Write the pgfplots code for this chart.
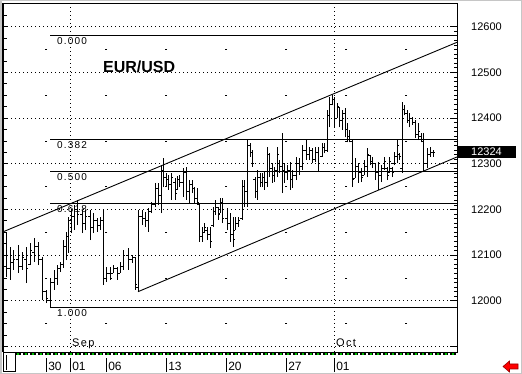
\documentclass[border=0pt]{standalone}
\usepackage{pgfplots}
\pgfplotsset{compat=1.18}
\usepackage{pgfplotstable}
\usepackage{fontspec}
\setmainfont{Liberation Sans}
\newfontfamily\fibfont[LetterSpace=12]{Liberation Sans}

\pgfdeclareplotmark{otick}{\pgfpathmoveto{\pgfqpoint{-\pgfplotmarksize}{0pt}}\pgfpathlineto{\pgfqpoint{0pt}{0pt}}\pgfusepathqstroke}
\pgfdeclareplotmark{ctick}{\pgfpathmoveto{\pgfqpoint{0pt}{0pt}}\pgfpathlineto{\pgfqpoint{\pgfplotmarksize}{0pt}}\pgfusepathqstroke}

\pgfplotstableread{
x h l o c
6 12151 12052 12100 12070
10 12118 12046 12070 12085
13 12111 12068 12085 12090
18 12122 12061 12090 12075
22 12107 12068 12075 12095
26 12118 12039 12090 12070
30 12127 12078 12080 12110
34 12137 12085 12105 12120
38 12129 12078 12120 12090
42 12096 12002 12090 12020
46 12024 11995 12020 12005
50 12050 11984 12000 12040
54 12068 12024 12040 12050
57 12078 12035 12050 12070
60 12085 12063 12070 12080
63 12133 12072 12080 12120
66 12151 12089 12120 12140
68 12183 12105 12140 12175
71 12199 12148 12175 12185
74 12210 12155 12185 12200
77 12221 12166 12200 12190
82 12199 12148 12190 12170
85 12199 12155 12170 12185
90 12199 12133 12185 12160
93 12192 12148 12160 12175
97 12181 12151 12175 12165
100 12183 12155 12165 12175
103 12199 12035 12175 12050
106 12074 12041 12050 12060
110 12074 12046 12060 12050
113 12078 12061 12061 12070
117 12074 12046 12070 12060
120 12085 12061 12061 12075
123 12111 12068 12075 12100
128 12116 12068 12100 12090
132 12100 12083 12090 12095
135 12096 12024 12095 12035
138 12199 12020 12030 12185
142 12199 12166 12185 12180
145 12194 12162 12180 12175
148 12203 12151 12175 12195
151 12216 12192 12195 12210
155 12258 12205 12210 12245
158 12258 12210 12245 12230
161 12297 12192 12230 12285
163 12312 12249 12285 12270
166 12280 12249 12270 12265
168 12275 12243 12265 12255
171 12280 12221 12255 12270
175 12269 12221 12260 12235
177 12273 12243 12243 12265
179 12275 12249 12265 12260
183 12291 12227 12260 12280
186 12293 12221 12280 12240
189 12264 12214 12240 12255
192 12264 12236 12255 12245
194 12249 12214 12245 12225
197 12247 12210 12225 12215
199 12214 12129 12210 12140
202 12162 12129 12140 12150
204 12170 12148 12150 12160
207 12162 12133 12155 12145
210 12162 12116 12145 12130
213 12205 12162 12165 12195
215 12221 12188 12195 12205
218 12205 12177 12205 12190
220 12225 12192 12192 12215
222 12225 12170 12215 12180
227 12203 12155 12180 12170
230 12192 12129 12170 12145
233 12183 12118 12145 12135
235 12183 12155 12155 12170
238 12183 12162 12170 12175
242 12264 12177 12180 12250
244 12264 12205 12250 12240
247 12352 12205 12240 12340
250 12345 12315 12340 12325
252 12330 12293 12325 12300
255 12271 12225 12265 12240
257 12286 12221 12240 12270
260 12280 12249 12270 12260
262 12280 12249 12260 12270
264 12282 12243 12270 12260
267 12336 12249 12260 12320
269 12323 12271 12320 12290
272 12301 12258 12290 12275
274 12293 12260 12275 12285
277 12336 12271 12285 12320
279 12308 12280 12300 12295
282 12367 12236 12295 12285
284 12301 12258 12285 12280
287 12297 12264 12280 12285
290 12304 12243 12285 12265
292 12286 12247 12265 12275
296 12315 12264 12275 12300
299 12312 12275 12300 12295
302 12341 12286 12295 12330
306 12352 12308 12330 12320
309 12336 12308 12320 12330
312 12334 12301 12330 12310
315 12336 12304 12310 12325
318 12336 12282 12325 12300
322 12345 12315 12315 12335
324 12345 12323 12335 12330
327 12417 12326 12330 12405
329 12446 12380 12405 12430
332 12450 12428 12430 12440
334 12446 12380 12440 12400
337 12433 12400 12400 12425
339 12424 12380 12424 12395
342 12417 12374 12395 12410
345 12422 12358 12410 12375
347 12389 12347 12375 12360
349 12374 12347 12360 12350
352 12352 12249 12350 12265
355 12312 12269 12269 12295
358 12301 12258 12295 12280
361 12291 12260 12280 12270
364 12308 12275 12275 12295
367 12334 12271 12295 12320
370 12319 12297 12319 12305
372 12315 12291 12305 12300
375 12301 12264 12300 12280
378 12304 12243 12280 12275
381 12297 12260 12275 12290
384 12315 12286 12290 12305
387 12293 12264 12290 12275
389 12315 12280 12280 12305
392 12293 12271 12290 12280
394 12326 12297 12300 12315
397 12352 12301 12315 12340
399 12323 12308 12320 12315
402 12435 12280 12290 12420
404 12428 12406 12420 12410
407 12417 12389 12410 12395
409 12411 12380 12395 12400
412 12402 12385 12400 12390
415 12396 12356 12390 12365
418 12389 12352 12365 12370
421 12367 12347 12360 12350
423 12367 12282 12350 12300
427 12334 12291 12300 12320
430 12336 12315 12320 12325
433 12330 12315 12325 12324
}\ohlc

\pgfplotstableread{
x y
46 12550
46 12450
46 12350
46 12250
46 12150
46 12050
46 11950
106 12550
106 12450
106 12350
106 12250
106 12150
106 12050
106 11950
166 12550
166 12450
166 12350
166 12250
166 12150
166 12050
166 11950
226 12550
226 12450
226 12350
226 12250
226 12150
226 12050
226 11950
286 12550
286 12450
286 12350
286 12250
286 12150
286 12050
286 11950
346 12550
346 12450
346 12350
346 12250
346 12150
346 12050
346 11950
406 12550
406 12450
406 12350
406 12250
406 12150
406 12050
406 11950
}\weekdots

\newcommand{\dl}[1]{\vrule height 12.5bp depth 1.5bp width 0.9bp\hspace{1.6bp}#1}

\begin{document}
\begin{tikzpicture}
\useasboundingbox (0,0) rectangle (522bp,374bp);
\fill[white] (0,0) rectangle (522bp,374bp);
\begin{axis}[
  at={(3bp,22bp)}, anchor=south west,
  scale only axis, width=454bp, height=349bp,
  xmin=3, xmax=457, ymin=11888, ymax=12652,
  axis line style={black, line width=1bp},
  xtick={46,70,106,166,226,286,334},
  xticklabels={\dl{30},\dl{01},\dl{06},\dl{13},\dl{20},\dl{27},\dl{01}},
  xtick style={draw=none},
  xticklabel style={anchor=north west, inner sep=0pt, yshift=-6bp, xshift=-0.45bp, font=\fontsize{12bp}{14bp}\selectfont},
  ytick={12000,12100,12200,12300,12400,12500,12600},
  yticklabels={12000,12100,12200,12300,12400,12500,12600},
  extra y ticks={11900},
  extra y tick labels={},
  extra y tick style={ymajorgrids},
  ytick pos=right, yticklabel pos=right,
  minor y tick num=9,
  major tick length=7bp, minor tick length=3bp,
  tick style={black, line width=0.8bp},
  ymajorgrids,
  major grid style={black, line width=0.9bp, dash pattern=on 1bp off 3bp},
  yticklabel style={anchor=west, inner sep=0pt, xshift=14bp, font=\fontsize{11bp}{13bp}\selectfont},
  clip=true,
]
% month separators
\addplot[black, line width=0.9bp, dash pattern=on 1bp off 3bp] coordinates {(70,11888) (70,12652)};
\addplot[black, line width=0.9bp, dash pattern=on 1bp off 3bp] coordinates {(334,11888) (334,12652)};
% weekly dot grid
\addplot[only marks, mark=-, mark size=1bp, mark options={black, line width=0.9bp}] table[x=x, y=y] {\weekdots};
% Fibonacci levels
\addplot[black, line width=0.9bp] coordinates {(50,12580) (457,12580)};
\addplot[black, line width=0.9bp] coordinates {(50,12352.7) (457,12352.7)};
\addplot[black, line width=0.9bp] coordinates {(50,12282.5) (457,12282.5)};
\addplot[black, line width=0.9bp] coordinates {(50,12212.3) (457,12212.3)};
\addplot[black, line width=0.9bp] coordinates {(50,11985) (457,11985)};
% channel
\addplot[black, line width=0.9bp] coordinates {(3,12151) (457,12566)};
\addplot[black, line width=0.9bp] coordinates {(138,12020) (457,12315)};
% OHLC bars
\addplot[draw=none, error bars/.cd, y dir=plus, y explicit, error mark=none,
  error bar style={draw=black, solid, line width=0.9bp}]
  table[x=x, y=l, y error expr=\thisrow{h}-\thisrow{l}] {\ohlc};
\addplot[only marks, mark=otick, mark size=1.6bp, mark options={black, line width=0.9bp}] table[x=x, y=o] {\ohlc};
\addplot[only marks, mark=ctick, mark size=1.6bp, mark options={black, line width=0.9bp}] table[x=x, y=c] {\ohlc};
% labels
\node[anchor=north west, inner sep=0pt, font=\fibfont\fontsize{10bp}{12bp}\selectfont] at (axis cs:57,12576) {0.000};
\node[anchor=north west, inner sep=0pt, font=\fibfont\fontsize{10bp}{12bp}\selectfont] at (axis cs:57,12349) {0.382};
\node[anchor=north west, inner sep=0pt, font=\fibfont\fontsize{10bp}{12bp}\selectfont] at (axis cs:57,12279) {0.500};
\node[anchor=north west, inner sep=0pt, font=\fibfont\fontsize{10bp}{12bp}\selectfont] at (axis cs:57,12209) {0.618};
\node[anchor=north west, inner sep=0pt, font=\fibfont\fontsize{10bp}{12bp}\selectfont] at (axis cs:57,11981) {1.000};
\node[anchor=base west, inner sep=0pt, font=\bfseries\fontsize{16bp}{18bp}\selectfont] at (axis cs:103,12499) {EUR/USD};
\node[anchor=base west, inner sep=0pt, font=\fibfont\fontsize{11bp}{13bp}\selectfont] at (axis cs:72,11899) {Sep};
\node[anchor=base west, inner sep=0pt, font=\fibfont\fontsize{11bp}{13bp}\selectfont] at (axis cs:336,11899) {Oct};
\end{axis}
% left tick overlay
\begin{axis}[
  at={(3bp,22bp)}, anchor=south west,
  scale only axis, width=454bp, height=349bp,
  xmin=3, xmax=457, ymin=11888, ymax=12652,
  hide x axis,
  axis line style={draw=none},
  ytick={11900,11925,...,12650},
  yticklabel=\empty,
  ytick pos=left,
  major tick length=3.5bp,
  tick style={black, line width=0.9bp},
]
\end{axis}
\draw[black, line width=2bp] (3bp,22bp) -- (3bp,371bp);
% bottom strip
\fill[black] (15bp,18.5bp) rectangle (457bp,22bp);
\draw[green!75!black, line width=2bp, dash pattern=on 2bp off 5.5bp] (17bp,20.2bp) -- (457bp,20.2bp);
\draw[white, line width=2bp, dash pattern=on 2bp off 5.5bp, dash phase=-3.75bp] (17bp,20.2bp) -- (457bp,20.2bp);
\draw[black, fill=white, line width=1bp] (3bp,2bp) rectangle (15.5bp,21bp);
\draw[black, line width=1bp] (6bp,4bp) -- (6bp,19bp);
% last price box
\fill[black] (458bp,216bp) rectangle (516bp,228bp);
\node[anchor=west, inner sep=0pt, text=white, font=\fontsize{11bp}{13bp}\selectfont] at (471bp,222bp) {12324};
% red arrow
\filldraw[fill=red, draw=red!60!black, line width=0.6bp] (503bp,7.5bp) -- (509.5bp,13bp) -- (509.5bp,10bp) -- (518bp,10bp) -- (518bp,5bp) -- (509.5bp,5bp) -- (509.5bp,2bp) -- cycle;
% outer frame
\draw[gray!45, line width=1.5bp] (0.75bp,0.75bp) rectangle (521.25bp,373.25bp);
\end{tikzpicture}
\end{document}
